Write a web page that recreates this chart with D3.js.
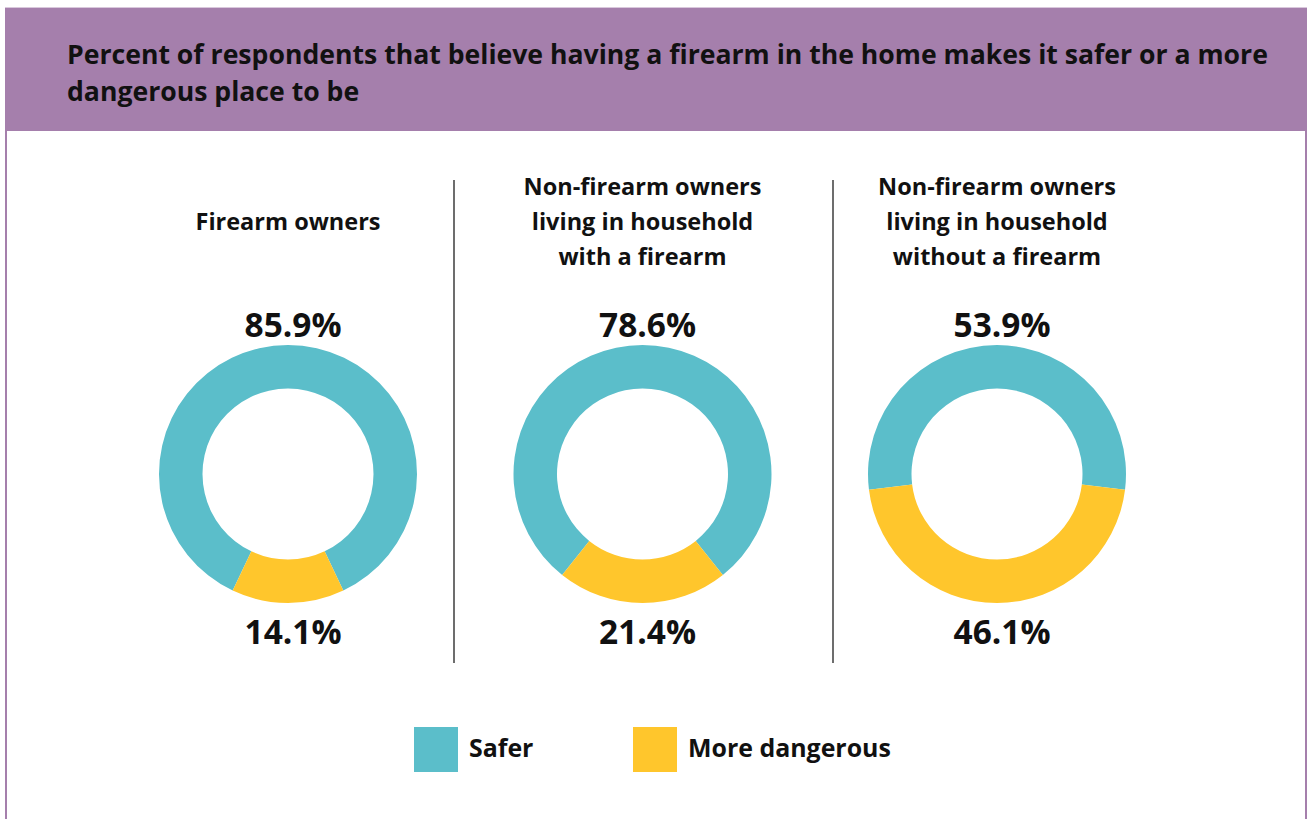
<!DOCTYPE html>
<html>
<head>
<meta charset="utf-8">
<script src="https://cdn.jsdelivr.net/npm/d3@7"></script>
<style>
  html, body { margin: 0; padding: 0; background: #fff; }
  svg { display: block; font-family: "Open Sans", Lato, sans-serif; }
</style>
</head>
<body>
<svg id="chart" width="1307" height="819"></svg>
<script>
// Survey groups and their answers
const groups = [
  ["Firearm owners"],
  ["Non-firearm owners", "living in household", "with a firearm"],
  ["Non-firearm owners", "living in household", "without a firearm"]
];
const categories = ["Safer", "More dangerous"];
const saferValues = [85.9, 78.6, 53.9];
const dangerousValues = [14.1, 21.4, 46.1];
const titleLines = [
  "Percent of respondents that believe having a firearm in the home makes it safer or a more",
  "dangerous place to be"
];

const colors = d3.scaleOrdinal().domain(categories).range(["#5bbeca", "#ffc62c"]);
const purple = "#a57fac";

const svg = d3.select("#chart");
const W = 1307, H = 819;

// scale a text class so that a reference string spans the wanted width
function fitSize(sel, refNode, width, base) {
  const w = refNode.getComputedTextLength();
  const size = base * width / w;
  sel.attr("font-size", size);
  return size;
}

// frame and header band
svg.append("rect").attr("x", 6).attr("y", 8).attr("width", W - 7).attr("height", H)
  .attr("fill", "none").attr("stroke", purple).attr("stroke-width", 2);
svg.append("rect").attr("x", 5).attr("y", 7).attr("width", W - 5).attr("height", 124)
  .attr("fill", purple);
svg.append("line").attr("x1", 5).attr("x2", W).attr("y1", 7.5).attr("y2", 7.5)
  .attr("stroke", "#d9c8dc").attr("stroke-width", 1);

const title = svg.append("g").selectAll("text").data(titleLines).join("text")
  .attr("x", 67).attr("y", (d, i) => 64 + i * 37)
  .attr("font-size", 26).attr("font-weight", 700).attr("fill", "#111")
  .text(d => d);
fitSize(title, title.node(), 1201, 26);

// column positions
const x = d3.scalePoint().domain(d3.range(groups.length)).range([288, 997]);
const cy = 474, outerR = 129, innerR = 85.5;

// vertical separators between columns
const separatorX = [454, 833];
svg.append("g").selectAll("line").data(separatorX).join("line")
  .attr("x1", d => d).attr("x2", d => d)
  .attr("y1", 180).attr("y2", 663)
  .attr("stroke", "#6d6d6d").attr("stroke-width", 2);

const arc = d3.arc().innerRadius(innerR).outerRadius(outerR);

groups.forEach((lines, i) => {
  const g = svg.append("g").attr("transform", `translate(${x(i)},0)`);

  // group heading, vertically centred on the three-line block
  const n = lines.length;
  const baseY = 222 - (n - 1) * 35 / 2 + 8;
  g.selectAll("text").data(lines).join("text")
    .attr("class", "head")
    .attr("text-anchor", "middle")
    .attr("y", (d, j) => baseY + j * 35)
    .attr("font-size", 22).attr("font-weight", 700).attr("fill", "#111")
    .text(d => d);

  // the "More dangerous" slice is centred on the bottom of the ring
  const dangerAngle = dangerousValues[i] / 100 * 2 * Math.PI;
  const pie = d3.pie().sort(null).value(d => d.v)
    .startAngle(Math.PI + dangerAngle / 2)
    .endAngle(Math.PI + dangerAngle / 2 + 2 * Math.PI);
  const data = [
    { k: "Safer", v: saferValues[i] },
    { k: "More dangerous", v: dangerousValues[i] }
  ];
  g.append("g").attr("transform", `translate(0,${cy})`)
    .selectAll("path").data(pie(data)).join("path")
    .attr("d", arc).attr("fill", d => colors(d.data.k));

  // value labels sit slightly right of the ring centre
  g.append("text").attr("class", "pct").attr("text-anchor", "middle")
    .attr("x", 5).attr("y", 337)
    .attr("font-size", 30).attr("font-weight", 700).attr("fill", "#111")
    .text(d3.format(".1f")(saferValues[i]) + "%");
  g.append("text").attr("class", "pct").attr("text-anchor", "middle")
    .attr("x", 5).attr("y", 644)
    .attr("font-size", 30).attr("font-weight", 700).attr("fill", "#111")
    .text(d3.format(".1f")(dangerousValues[i]) + "%");
});

const heads = svg.selectAll("text.head");
fitSize(heads, heads.nodes()[1], 238, 22);
const pcts = svg.selectAll("text.pct");
fitSize(pcts, pcts.nodes()[0], 97, 30);

// legend
const legendX = [414, 633];
const lg = svg.append("g").selectAll("g").data(categories).join("g")
  .attr("transform", (d, i) => `translate(${legendX[i]},727)`);
lg.append("rect").attr("width", 44).attr("height", 45).attr("fill", d => colors(d));
const legText = lg.append("text").attr("x", 55).attr("y", 30)
  .attr("font-size", 22).attr("font-weight", 700).attr("fill", "#111")
  .text(d => d);
fitSize(legText, legText.nodes()[1], 203, 22);
</script>
</body>
</html>
